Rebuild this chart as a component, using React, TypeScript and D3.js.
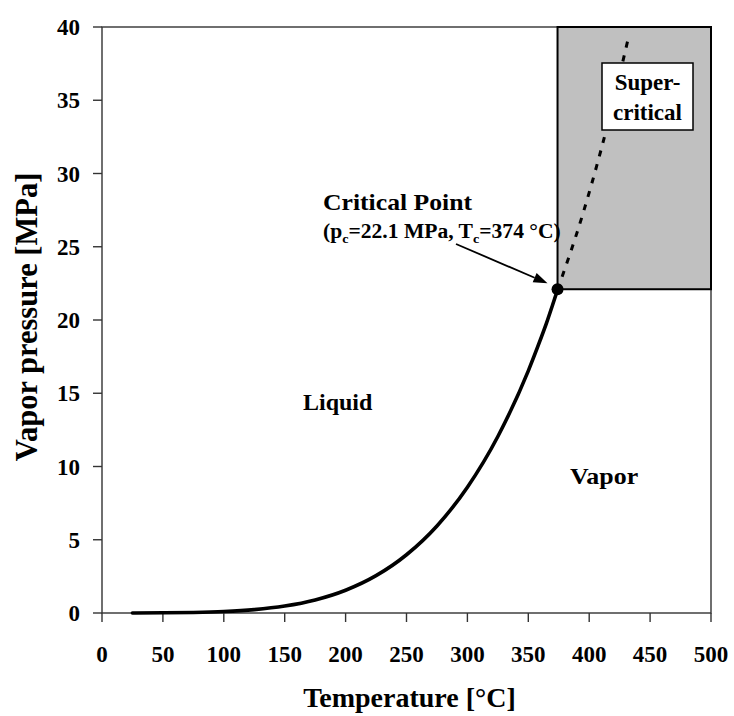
import React from "react";
import * as d3 from "d3";

// Saturated vapour pressure of water (MPa) against temperature (°C)
const satTemp = [25, 50, 75, 100, 125, 150, 175, 200, 225, 250, 275, 300, 325, 350, 360, 365, 370, 374];
const satPressure = [0.0032, 0.0123, 0.0386, 0.1014, 0.232, 0.476, 0.892, 1.555, 2.548, 3.976, 5.942, 8.588, 12.05, 16.53, 18.67, 19.8, 21.04, 22.06];

// Extension of the curve into the supercritical region
const extTemp = [374, 395, 410, 432];
const extPressure = [22.06, 27.3, 31.7, 39.2];

// Critical point
const critTemp = 374;
const critPressure = 22.1;

const xTicks = [0, 50, 100, 150, 200, 250, 300, 350, 400, 450, 500];
const yTicks = [0, 5, 10, 15, 20, 25, 30, 35, 40];

const W = 734;
const H = 716;
const FONT = '"Liberation Serif", "DejaVu Serif", serif';

export default function App() {
  const x = d3.scaleLinear().domain([0, 500]).range([102, 711]);
  const y = d3.scaleLinear().domain([0, 40]).range([613, 27]);

  const line = d3
    .line<[number, number]>()
    .x((d) => x(d[0]))
    .y((d) => y(d[1]))
    .curve(d3.curveMonotoneX);

  const satPts = satTemp.map((t, i) => [t, satPressure[i]] as [number, number]);
  const extPts = extTemp.map((t, i) => [t, extPressure[i]] as [number, number]);

  const cx = x(critTemp);
  const cy = y(critPressure);

  // arrow from the label to the critical point
  const ax0 = 456, ay0 = 244;
  const ang = Math.atan2(cy - 6 - ay0, cx - 10 - ax0);
  const tipX = cx - 10, tipY = cy - 6;
  const hl = 14, hw = 5;
  const bx = tipX - hl * Math.cos(ang), by = tipY - hl * Math.sin(ang);
  const head = `M${tipX},${tipY} L${bx - hw * Math.sin(ang)},${by + hw * Math.cos(ang)} L${bx + hw * Math.sin(ang)},${by - hw * Math.cos(ang)} Z`;

  const ts = { fontFamily: FONT, fontWeight: 700 } as React.CSSProperties;

  return (
    <svg width={W} height={H} style={{ position: "absolute", left: 0, top: 0, background: "#fff" }}>
      <rect width={W} height={H} fill="#fff" />
      {/* plot frame */}
      <rect x={x(0)} y={y(40)} width={x(500) - x(0)} height={y(0) - y(40)} fill="none" stroke="#333" strokeWidth={1.4} />

      {/* supercritical region */}
      <rect x={x(critTemp)} y={y(40)} width={x(500) - x(critTemp)} height={y(critPressure) - y(40)} fill="#c0c0c0" stroke="#000" strokeWidth={2} />

      {/* y axis ticks */}
      {yTicks.map((t) => (
        <g key={"y" + t}>
          <line x1={x(0) - 9} x2={x(0)} y1={y(t)} y2={y(t)} stroke="#333" strokeWidth={1.4} />
          <text x={80} y={y(t)} dy="0.35em" textAnchor="end" fontSize={23} style={ts}>{t}</text>
        </g>
      ))}
      {/* x axis ticks */}
      {xTicks.map((t) => (
        <g key={"x" + t}>
          <line x1={x(t)} x2={x(t)} y1={y(0)} y2={y(0) + 9} stroke="#333" strokeWidth={1.4} />
          <text x={x(t)} y={662} textAnchor="middle" fontSize={23} style={ts}>{t}</text>
        </g>
      ))}

      {/* axis titles */}
      <text x={(x(0) + x(500)) / 2 + 3} y={707} textAnchor="middle" fontSize={28} style={ts}>Temperature [°C]</text>
      <text transform={`translate(37,317) rotate(-90)`} textAnchor="middle" fontSize={30.5} style={ts}>Vapor pressure [MPa]</text>

      {/* vapour pressure curve */}
      <path d={line(satPts) || ""} fill="none" stroke="#000" strokeWidth={3.6} strokeLinecap="round" />
      <path d={line(extPts) || ""} fill="none" stroke="#000" strokeWidth={3} strokeDasharray="6 8" />
      <circle cx={cx} cy={cy} r={6} fill="#000" />

      {/* supercritical label */}
      <rect x={602} y={63} width={91} height={67} fill="#fff" stroke="#000" strokeWidth={1.5} />
      <text x={647.5} y={90} textAnchor="middle" fontSize={23} style={ts}>Super-</text>
      <text x={647.5} y={120} textAnchor="middle" fontSize={23} style={ts}>critical</text>

      {/* critical point annotation */}
      <text transform="translate(323,210) scale(1.07,1)" fontSize={24} style={ts}>Critical Point</text>
      <text transform="translate(323,238) scale(1.08,1)" fontSize={20} style={ts}>
        (p<tspan fontSize={13} dy={5}>c</tspan><tspan dy={-5}>=22.1 MPa, T</tspan><tspan fontSize={13} dy={5}>c</tspan><tspan dy={-5}>=374 °C)</tspan>
      </text>
      <line x1={ax0} y1={ay0} x2={bx} y2={by} stroke="#000" strokeWidth={1.8} />
      <path d={head} fill="#000" />

      {/* region labels */}
      <text x={303} y={410} fontSize={24} style={ts}>Liquid</text>
      <text transform="translate(570,484) scale(1.08,1)" fontSize={24} style={ts}>Vapor</text>
    </svg>
  );
}
